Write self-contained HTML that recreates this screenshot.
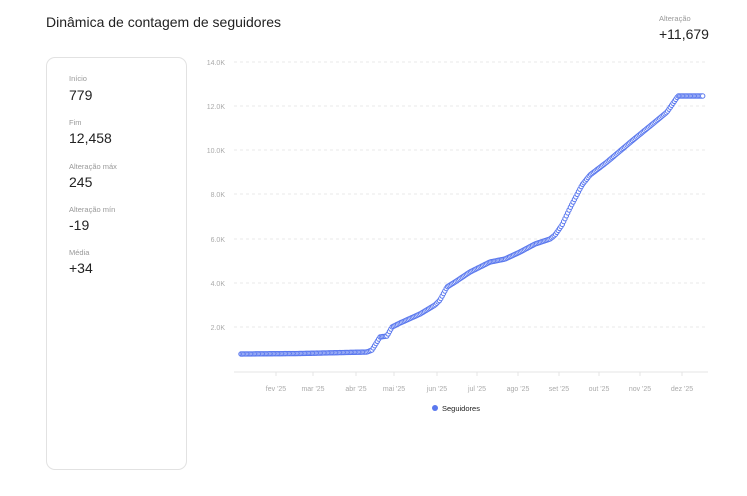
<!DOCTYPE html>
<html><head><meta charset="utf-8"><style>
body{margin:0;width:747px;height:496px;background:#fff;font-family:"Liberation Sans",sans-serif;position:relative;overflow:hidden}
.t{position:absolute;left:46px;top:14px;font-size:14px;color:#222}
.card{position:absolute;left:46px;top:57px;width:141px;height:413px;border:1px solid #e2e2e2;border-radius:9px;box-sizing:border-box}
.l{position:absolute;left:69px;font-size:7.5px;color:#999}
.v{position:absolute;left:69px;font-size:14px;color:#222}
</style></head><body>
<div class="t">Dinâmica de contagem de seguidores</div>
<div style="position:absolute;left:659px;top:14px;font-size:7.5px;color:#999">Alteração</div>
<div style="position:absolute;left:659px;top:26px;font-size:14px;color:#222">+11,679</div>
<div class="card"></div>
<div class="l" style="top:74px">Início</div><div class="v" style="top:87px">779</div>
<div class="l" style="top:118px">Fim</div><div class="v" style="top:130px">12,458</div>
<div class="l" style="top:162px">Alteração máx</div><div class="v" style="top:174px">245</div>
<div class="l" style="top:205px">Alteração mín</div><div class="v" style="top:217px">-19</div>
<div class="l" style="top:248px">Média</div><div class="v" style="top:260px">+34</div>
<svg id="s" width="747" height="496" style="position:absolute;left:0;top:0" font-family="Liberation Sans, sans-serif">
<g stroke="#e8e8e8" stroke-dasharray="3,3" stroke-width="1">
<line x1="234" x2="708" y1="62" y2="62"/><line x1="234" x2="708" y1="106" y2="106"/><line x1="234" x2="708" y1="150" y2="150"/><line x1="234" x2="708" y1="194" y2="194"/><line x1="234" x2="708" y1="239" y2="239"/><line x1="234" x2="708" y1="283" y2="283"/><line x1="234" x2="708" y1="327" y2="327"/>
</g>
<line x1="234" x2="708" y1="372" y2="372" stroke="#e4e4e4"/>
<g font-size="7" fill="#aaa" text-anchor="end">
<text x="225" y="65">14.0K</text><text x="225" y="109">12.0K</text><text x="225" y="153">10.0K</text><text x="225" y="197">8.0K</text><text x="225" y="242">6.0K</text><text x="225" y="286">4.0K</text><text x="225" y="330">2.0K</text>
</g>
<g font-size="7" fill="#aaa" text-anchor="middle" id="mx"></g>
<g id="pts" fill="#fff" stroke="#5a78ee" stroke-width="1"></g>
<circle cx="435" cy="408" r="3" fill="#5a78ee"/>
<text x="442" y="411" font-size="7.5" fill="#222">Seguidores</text>
</svg>
<script>
var ns="http://www.w3.org/2000/svg";
var m=[["fev '25",276],["mar '25",313],["abr '25",356],["mai '25",394],["jun '25",437],["jul '25",477],["ago '25",518],["set '25",559],["out '25",599],["nov '25",640],["dez '25",682]];
var g=document.getElementById("mx");
m.forEach(function(a){var t=document.createElementNS(ns,"text");t.setAttribute("x",a[1]);t.setAttribute("y",391);t.textContent=a[0];g.appendChild(t);
var l=document.createElementNS(ns,"line");l.setAttribute("x1",a[1]);l.setAttribute("x2",a[1]);l.setAttribute("y1",372);l.setAttribute("y2",376);l.setAttribute("stroke","#e4e4e4");g.appendChild(l);});
var k=[[241,354],[300,353.5],[367,352],[372,350],[380,337],[387,336],[392,327],[400,323],[420,314],[435,305],[440,300],[447,287],[455,282],[470,272],[490,262],[505,259],[520,252],[535,244],[550,239],[555,235],[562,225],[570,208],[582,185],[590,175],[607,162],[633,140],[655,122],[667,112],[678,96],[704,96]];
var p=document.getElementById("pts");
for(var x=241;x<=704;x+=1.35){var i=0;while(i<k.length-2&&k[i+1][0]<x)i++;var a=k[i],b=k[i+1];var f=(x-a[0])/(b[0]-a[0]);var y=a[1]+(b[1]-a[1])*f;
var c=document.createElementNS(ns,"circle");c.setAttribute("cx",x.toFixed(2));c.setAttribute("cy",y.toFixed(2));c.setAttribute("r",2.2);p.appendChild(c);}
</script>
</body></html>
